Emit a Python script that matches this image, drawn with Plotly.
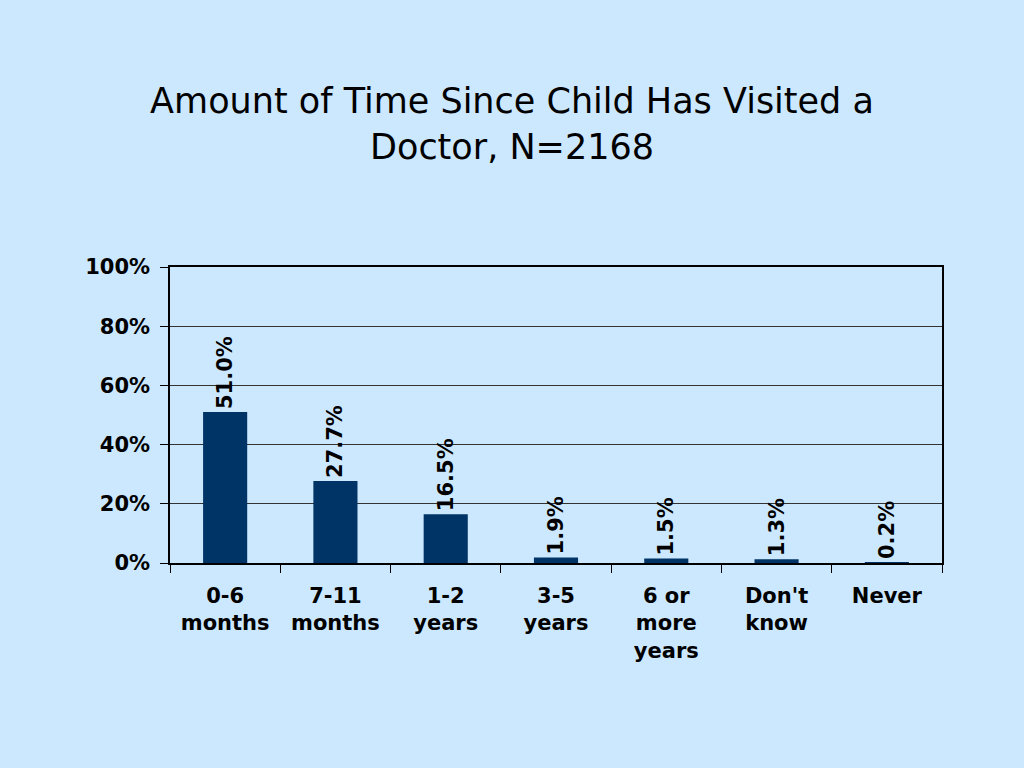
import plotly.graph_objects as go

categories = ["0-6<br>months", "7-11<br>months", "1-2<br>years", "3-5<br>years",
              "6 or<br>more<br>years", "Don't<br>know", "Never"]
values = [0.510, 0.277, 0.165, 0.019, 0.015, 0.013, 0.002]
labels = ["51.0%", "27.7%", "16.5%", "1.9%", "1.5%", "1.3%", "0.2%"]
y_ticks = [0, 0.2, 0.4, 0.6, 0.8, 1.0]
y_tick_text = ["0%", "20%", "40%", "60%", "80%", "100%"]

BG = "#CCE8FF"
BAR = "#003366"
FONT = "DejaVu Sans"

fig = go.Figure(go.Bar(
    x=categories, y=values, width=0.4,
    marker=dict(color=BAR, line=dict(width=0)),
    text=labels, textposition="outside", textangle=-90,
    constraintext="none",
    textfont=dict(family=FONT, size=21, color="black", weight="bold"),
    cliponaxis=False,
))

fig.update_layout(
    width=1024, height=768,
    paper_bgcolor=BG, plot_bgcolor=BG,
    margin=dict(l=170, r=82, t=267, b=205),
    showlegend=False,
    title=dict(
        text="Amount of Time Since Child Has Visited a<br>Doctor, N=2168",
        x=0.5, xanchor="center", y=1 - 113 / 768, yanchor="middle",
        font=dict(family=FONT, size=35, color="black"),
    ),
    bargap=0.6,
)
fig.update_xaxes(
    showline=True, linecolor="black", linewidth=1.5, mirror=True,
    ticks="outside", tickson="boundaries", ticklen=8, tickcolor="black",
    tickfont=dict(family=FONT, size=21, color="black", weight="bold"),
    ticklabelstandoff=13,
    showgrid=False,
)
fig.update_yaxes(
    range=[0, 1], tickvals=y_ticks, ticktext=y_tick_text,
    showline=True, linecolor="black", linewidth=1.5, mirror=True,
    ticks="outside", ticklen=8, tickcolor="black",
    tickfont=dict(family=FONT, size=21, color="black", weight="bold"),
    ticklabelstandoff=6,
    showgrid=True, gridcolor="#333333", gridwidth=1,
    zeroline=False,
)

fig.write_html("out.html", config={"displayModeBar": False},
               post_script="document.body.style.margin='0';")
